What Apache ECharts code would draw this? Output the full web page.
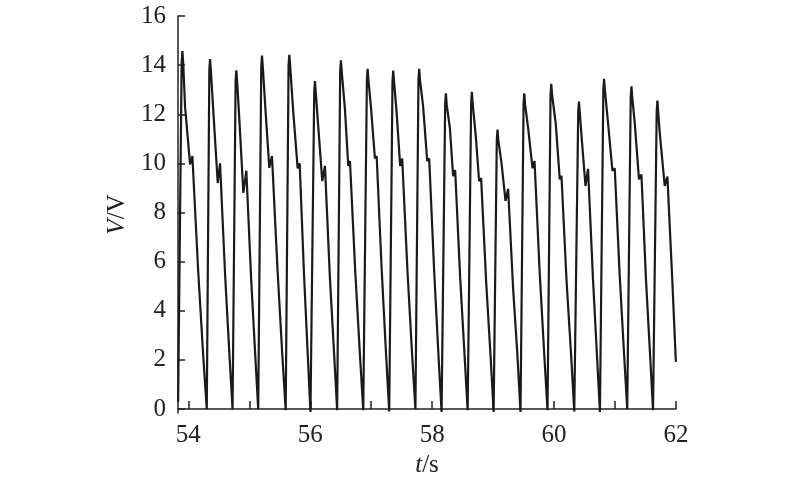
<!DOCTYPE html>
<html>
<head>
<meta charset="utf-8">
<script src="https://cdn.jsdelivr.net/npm/echarts@6/dist/echarts.min.js"></script>
<style>html,body{margin:0;padding:0;background:#fff}#c{width:800px;height:483px}</style>
</head>
<body>
<div id="c"></div>
<script>
var timeS = [53.832,
 53.890,53.902,53.915,53.946,54.028,54.066,54.160,54.243,54.302,
 54.344,54.356,54.369,54.410,54.482,54.520,54.602,54.674,54.725,
 54.775,54.787,54.800,54.836,54.902,54.951,55.030,55.097,55.146,
 55.196,55.208,55.221,55.262,55.328,55.372,55.462,55.541,55.597,
 55.644,55.656,55.669,55.721,55.793,55.826,55.897,55.959,56.003,
 56.065,56.077,56.090,56.131,56.197,56.241,56.321,56.392,56.441,
 56.491,56.503,56.516,56.569,56.623,56.651,56.738,56.815,56.869,
 56.929,56.941,56.954,56.995,57.061,57.089,57.171,57.244,57.295,
 57.349,57.361,57.374,57.416,57.475,57.508,57.595,57.671,57.725,
 57.775,57.787,57.800,57.852,57.918,57.951,58.033,58.103,58.154,
 58.213,58.225,58.238,58.290,58.344,58.377,58.459,58.531,58.582,
 58.639,58.651,58.664,58.716,58.770,58.803,58.885,58.957,59.008,
 59.060,59.072,59.085,59.138,59.203,59.246,59.328,59.398,59.449,
 59.499,59.511,59.524,59.574,59.646,59.679,59.764,59.839,59.892,
 59.942,59.954,59.967,60.028,60.093,60.121,60.205,60.279,60.331,
 60.396,60.408,60.421,60.454,60.515,60.557,60.636,60.703,60.752,
 60.808,60.820,60.833,60.885,60.957,60.995,61.077,61.149,61.200,
 61.257,61.269,61.282,61.323,61.393,61.433,61.508,61.575,61.623,
 61.683,61.695,61.708,61.733,61.815,61.859,61.938,61.998];
var voltageV = [0.3,
 14.1,14.57,14.1,12.3,9.96,10.3,5.67,2.2,0,
 13.8,14.25,13.8,12.1,9.2,10.0,5.5,2.2,0,
 13.35,13.79,13.35,11.8,8.8,9.7,5.3,2.2,0,
 13.95,14.39,13.95,12.3,9.82,10.3,5.7,2.2,-0.05,
 14.0,14.42,14.0,12.1,9.8,10.0,5.5,2.2,-0.12,
 12.9,13.35,12.9,11.5,9.28,9.9,5.4,2.2,-0.05,
 13.75,14.2,13.75,12.2,9.9,10.1,5.6,2.2,-0.05,
 13.4,13.85,13.4,12.3,10.2,10.3,5.7,2.2,-0.1,
 13.35,13.78,13.35,12.1,9.9,10.2,5.6,2.2,0,
 13.4,13.85,13.4,12.3,10.1,10.2,5.6,2.2,-0.12,
 12.4,12.85,12.4,11.45,9.48,9.73,5.35,2.2,-0.05,
 12.45,12.91,12.45,11.1,9.28,9.4,5.2,2.2,-0.12,
 10.95,11.38,10.95,10.0,8.47,8.97,4.9,2.2,-0.12,
 12.4,12.85,12.4,11.45,9.8,10.1,5.55,2.2,-0.05,
 12.8,13.24,12.8,11.6,9.35,9.5,5.2,2.2,-0.1,
 12.1,12.52,12.1,11.0,9.08,9.78,5.4,2.2,-0.12,
 13.0,13.44,13.0,11.65,9.7,9.8,5.4,2.2,0,
 12.7,13.14,12.7,11.65,9.35,9.55,5.25,2.2,-0.05,
 12.1,12.56,12.1,11.25,9.08,9.46,5.3,1.92];
var xTicks = [54,55,56,57,58,59,60,61,62];
var xLabels = [54,56,58,60,62];
var yTicks = [0,2,4,6,8,10,12,14,16];

var pts = timeS.map(function(t,i){return [t, voltageV[i]];});
var font = 'Liberation Serif';
var chart = echarts.init(document.getElementById('c'), null, {renderer:'canvas'});
chart.setOption({
  animation:false,
  backgroundColor:'#fff',
  grid:{left:178, right:124, top:16, bottom:69, containLabel:false},
  xAxis:{
    type:'value', min:53.83, max:62,
    name:'{i|t}/s', nameLocation:'middle', nameGap:40,
    nameTextStyle:{fontFamily:font, fontSize:25, color:'#222',
      rich:{i:{fontFamily:font, fontSize:25, fontStyle:'italic', color:'#222'}}},
    axisLine:{lineStyle:{color:'#222', width:1.5}},
    axisTick:{inside:true, length:8, customValues:xTicks, lineStyle:{color:'#222', width:1.5}},
    axisLabel:{customValues:xLabels, fontFamily:font, fontSize:25, color:'#222', margin:10},
    splitLine:{show:false}
  },
  yAxis:{
    type:'value', min:-0.16, max:16,
    name:'{i|V}/V', nameLocation:'middle', nameGap:47, nameRotate:90,
    nameTextStyle:{fontFamily:font, fontSize:25, color:'#222',
      rich:{i:{fontFamily:font, fontSize:25, fontStyle:'italic', color:'#222'}}},
    axisLine:{show:true, lineStyle:{color:'#222', width:1.5}},
    axisTick:{show:true, inside:true, length:7, customValues:yTicks, lineStyle:{color:'#222', width:1.5}},
    axisLabel:{customValues:yTicks, fontFamily:font, fontSize:25, color:'#222', margin:12},
    splitLine:{show:false}
  },
  series:[{
    type:'line', data:pts, showSymbol:false, smooth:false,
    lineStyle:{color:'#1a1a1a', width:2.2}
  }]
});
</script>
</body>
</html>
